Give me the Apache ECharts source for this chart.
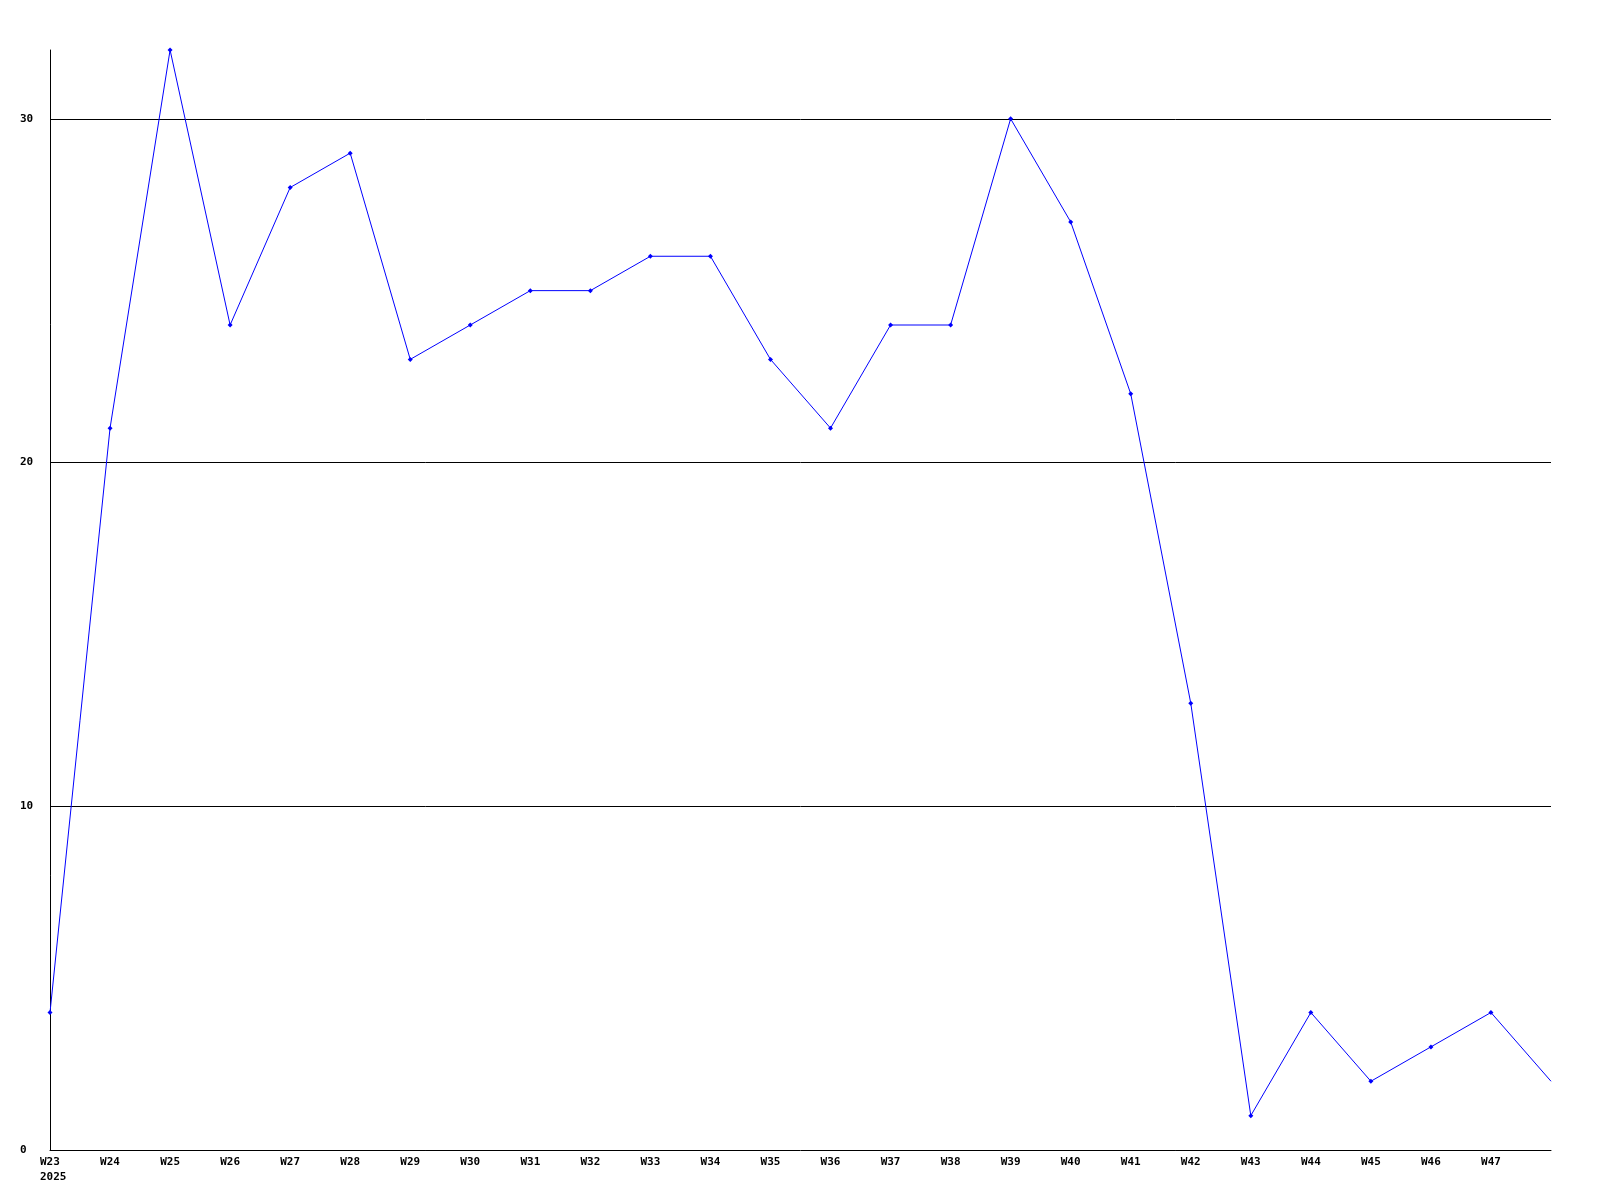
<!DOCTYPE html>
<html>
<head>
<meta charset="utf-8">
<script src="https://cdn.jsdelivr.net/npm/echarts@6/dist/echarts.min.js"></script>
<style>
html,body{margin:0;padding:0;background:#fff;}
#c{width:1600px;height:1200px;}
</style>
</head>
<body>
<div id="c"></div>
<script>
const categories = ['W23','W24','W25','W26','W27','W28','W29','W30','W31','W32','W33','W34','W35','W36','W37','W38','W39','W40','W41','W42','W43','W44','W45','W46','W47','W48'];
const values = [4,21,32,24,28,29,23,24,25,25,26,26,23,21,24,24,30,27,22,13,1,4,2,3,4,2];
const firstYearLabel = '2025';
const yTicks = [0,10,20,30];

const chart = echarts.init(document.getElementById('c'), null, {renderer:'canvas'});
const font = {fontFamily:'DejaVu Sans Mono', fontWeight:'bold', fontSize:11, color:'#000'};
const seriesData = values.map(function(v, i){
  return i === values.length - 1 ? {value:v, symbol:'none'} : v;
});
chart.setOption({
  animation:false,
  backgroundColor:'#fff',
  grid:{left:50, right:49, top:50, bottom:50, containLabel:false},
  xAxis:{
    type:'category',
    data:categories,
    boundaryGap:false,
    axisLine:{lineStyle:{color:'#000', width:1}},
    axisTick:{show:false},
    splitLine:{show:false},
    axisLabel:Object.assign({}, font, {
      interval:0,
      margin:5,
      align:'center',
      lineHeight:15,
      rich:{
        w:Object.assign({}, font, {lineHeight:15, align:'left'}),
        y:Object.assign({}, font, {lineHeight:15, align:'left', width:20})
      },
      formatter:function(v, i){
        if (i === categories.length - 1) return '';
        if (i === 0) return '{w|' + v + '}\n{y|' + firstYearLabel + '}';
        return v;
      }
    })
  },
  yAxis:{
    type:'value',
    min:0,
    max:32,
    interval:10,
    axisLine:{show:true, lineStyle:{color:'#000', width:1}},
    axisTick:{show:false},
    splitLine:{show:true, showMinLine:false, showMaxLine:false, lineStyle:{color:'#000', width:1}},
    axisLabel:Object.assign({}, font, {
      align:'left',
      margin:30,
      showMaxLabel:false,
      formatter:function(v){ return yTicks.indexOf(v) >= 0 ? String(v) : ''; }
    })
  },
  series:[{
    type:'line',
    data:seriesData,
    symbol:'diamond',
    symbolSize:5,
    showAllSymbol:true,
    lineStyle:{color:'#0000ff', width:1},
    itemStyle:{color:'#0000ff'},
    emphasis:{disabled:true}
  }]
});
</script>
</body>
</html>
